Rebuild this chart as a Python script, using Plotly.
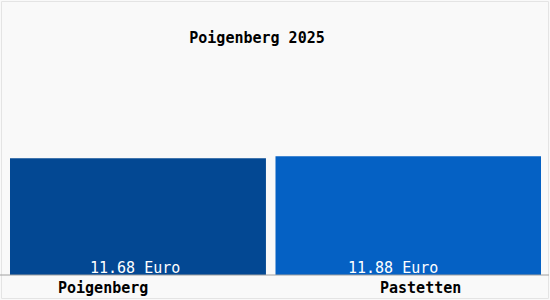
import plotly.graph_objects as go

title_text = "Poigenberg 2025"
categories = ["Poigenberg", "Pastetten"]
values = [11.68, 11.88]
value_labels = ["11.68 Euro", "11.88 Euro"]
bar_colors = ["#034893", "#0561C4"]

W, H = 550, 300
ML, MR, MT, MB = 10, 9, 0, 25
PW = W - ML - MR
PH = H - MT - MB

def px_x(p):
    return (p - ML) / PW

FONT = "DejaVu Sans Mono"

fig = go.Figure()
fig.add_trace(go.Bar(
    x=categories, y=values,
    marker=dict(color=bar_colors, line=dict(width=0)),
    width=[0.964, 1.0], offset=[-0.5, -0.5],
    hoverinfo="skip",
))

annotations = []
# value labels inside bars
for cat, lab, shift in zip(categories, value_labels, [-8, -15]):
    annotations.append(dict(
        x=cat, y=0, xref="x", yref="y", text=lab, showarrow=False,
        xshift=shift, yshift=7, yanchor="middle",
        font=dict(family=FONT, size=15, color="white"),
    ))
# category labels
for cat, px in zip(categories, [103, 420]):
    annotations.append(dict(
        x=px_x(px), y=0, xref="paper", yref="paper",
        text="<b>" + cat + "</b>", showarrow=False,
        yshift=-13, yanchor="middle", xanchor="center",
        font=dict(family=FONT, size=15, color="black"),
    ))

fig.update_layout(
    width=W, height=H,
    margin=dict(l=ML, r=MR, t=MT, b=MB, pad=0),
    paper_bgcolor="#F9F9F9", plot_bgcolor="#F9F9F9",
    showlegend=False,
    title=dict(text="<b>" + title_text + "</b>", x=257 / W, xanchor="center",
               xref="container", yref="container", y=1 - 38 / H, yanchor="middle",
               font=dict(family=FONT, size=15, color="black")),
    xaxis=dict(range=[-0.5, 1.5], showticklabels=False, showgrid=False,
               zeroline=False, showline=False, ticks=""),
    yaxis=dict(range=[0, 27.5], showticklabels=False, showgrid=False,
               zeroline=False, showline=False, ticks=""),
    annotations=annotations,
    shapes=[
        dict(type="line", xref="paper", yref="paper", x0=px_x(0), x1=px_x(549),
             y0=0, y1=0, line=dict(color="#A0A0A0", width=1), layer="above"),
        dict(type="rect", xref="paper", yref="paper", x0=px_x(1.5), x1=px_x(548.5),
             y0=-23.5 / PH, y1=(PH - 1.5) / PH, line=dict(color="#E4E4E4", width=1),
             layer="below"),
    ],
)

fig.write_html("out.html")
